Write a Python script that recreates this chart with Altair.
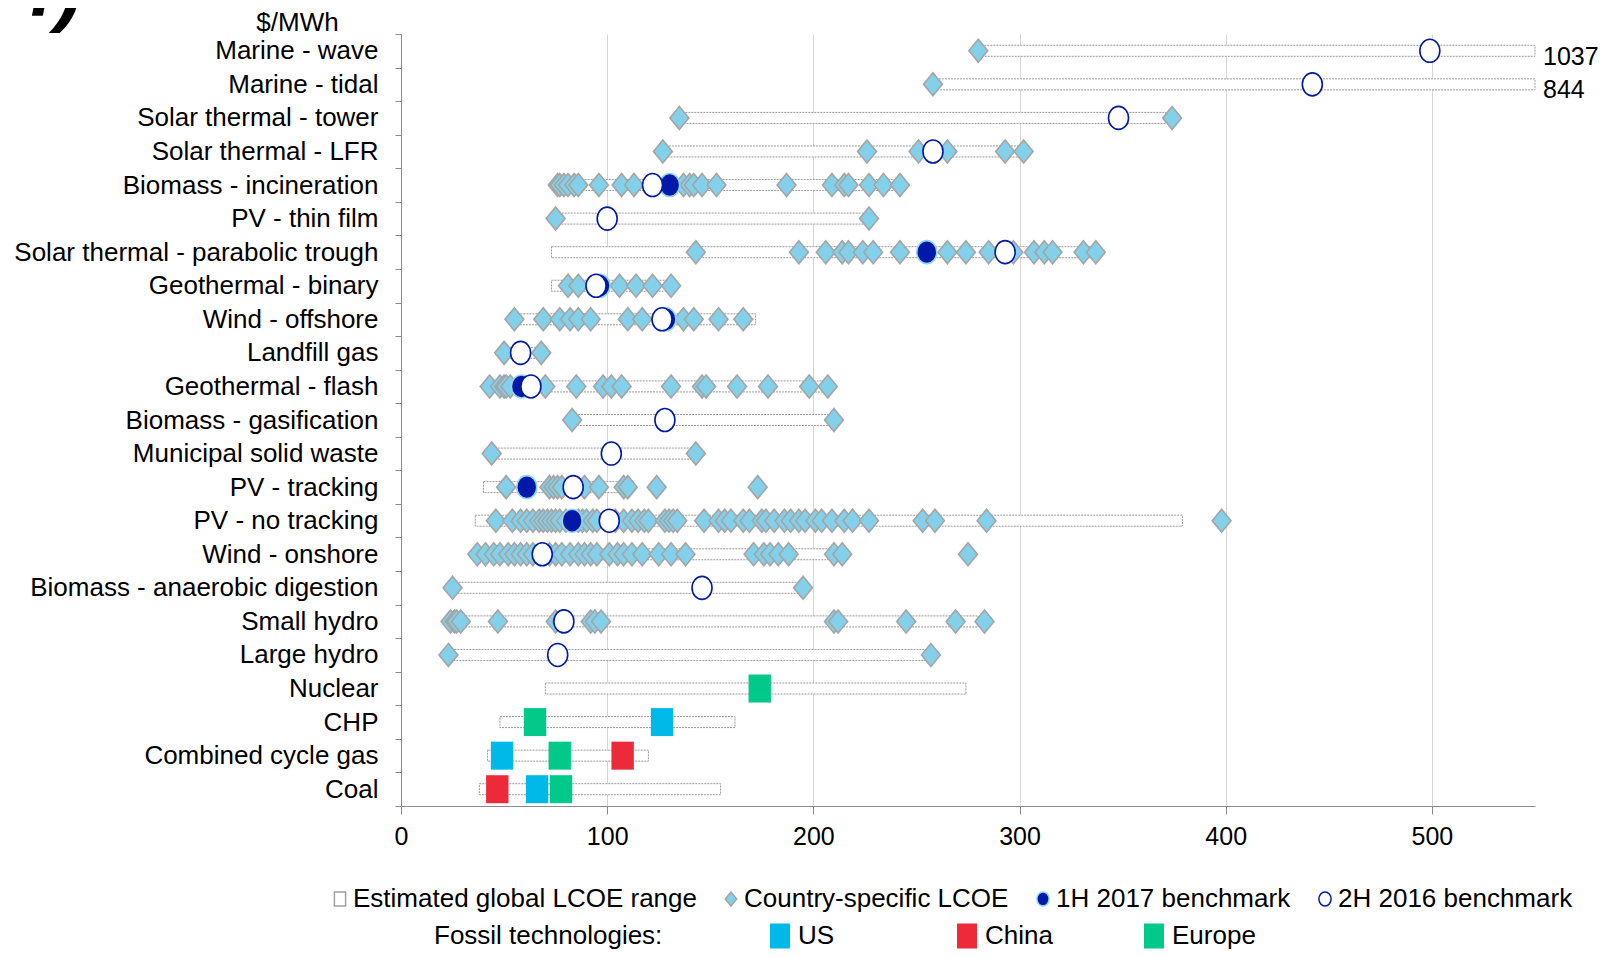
import altair as alt
import pandas as pd

FONT = "Liberation Sans"

categories = [
    "Marine - wave", "Marine - tidal", "Solar thermal - tower", "Solar thermal - LFR",
    "Biomass - incineration", "PV - thin film", "Solar thermal - parabolic trough",
    "Geothermal - binary", "Wind - offshore", "Landfill gas", "Geothermal - flash",
    "Biomass - gasification", "Municipal solid waste", "PV - tracking", "PV - no tracking",
    "Wind - onshore", "Biomass - anaerobic digestion", "Small hydro", "Large hydro",
    "Nuclear", "CHP", "Combined cycle gas", "Coal",
]

range_low = [280, 258, 135, 127, 76, 75, 73, 73, 55, 50, 43, 83, 44, 40, 36, 37, 25, 24, 23, 70, 48, 42, 38]
range_high = [1037, 844, 371, 302, 242, 227, 338, 131, 172, 68, 207, 210, 143, 105, 379, 207, 195, 280, 257, 274, 162, 120, 155]

country_lcoe = [
    [280],
    [258],
    [135, 374],
    [127, 226, 251, 265, 293, 302],
    [76, 77, 79, 81, 84, 86, 96, 107, 113, 137, 140, 142, 146, 153, 187, 209, 215, 217, 227, 234, 242],
    [75, 227],
    [143, 193, 206, 214, 217, 224, 229, 242, 265, 274, 285, 297, 307, 312, 316, 331, 337],
    [81, 86, 106, 114, 122, 131],
    [55, 69, 77, 82, 86, 92, 110, 117, 137, 142, 154, 166],
    [50, 68],
    [43, 48, 50, 51, 53, 70, 85, 98, 102, 107, 131, 146, 148, 163, 178, 198, 207],
    [83, 210],
    [44, 143],
    [51, 72, 74, 76, 78, 89, 96, 108, 110, 124, 173],
    [46, 54, 58, 61, 64, 67, 69, 71, 73, 75, 77, 80, 86, 88, 90, 93, 95, 104, 108, 112,
     115, 118, 120, 128, 130, 132, 134, 147, 154, 157, 160, 166, 169, 175, 177, 181, 186,
     189, 193, 196, 201, 204, 209, 215, 219, 227, 253, 259, 284, 398],
    [37, 41, 45, 48, 52, 55, 58, 61, 64, 72, 75, 78, 82, 86, 89, 92, 95, 101, 105, 108,
     112, 117, 125, 131, 138, 171, 176, 179, 183, 188, 210, 214, 275],
    [25, 195],
    [24, 26, 27, 29, 47, 75, 78, 92, 94, 97, 210, 212, 245, 269, 283],
    [23, 257],
    [], [], [], [],
]

bench_1h2017 = [None, None, None, None, 130.3, None, 255, 96.5, 128.5, None, 58.4, None,
                None, 61, 83, None, None, None, None, None, None, None, None]
bench_2h2016 = [499, 442, 348, 258, 122, 100, 293, 94.6, 126.6, 58, 63, 128, 102, 83.5,
                101, 68.5, 146, 79, 76, None, None, None, None]

fossil_tech = ["Nuclear", "CHP", "CHP", "Combined cycle gas", "Combined cycle gas",
               "Combined cycle gas", "Coal", "Coal", "Coal"]
fossil_region = ["Europe", "Europe", "US", "US", "Europe", "China", "China", "US", "Europe"]
fossil_value = [174, 65, 126.6, 49, 77, 107.5, 46.7, 66, 77.6]

overflow_tech = ["Marine - wave", "Marine - tidal"]
overflow_value = [1037, 844]

series_names = ["Estimated global LCOE range", "Country-specific LCOE",
                "1H 2017 benchmark", "2H 2016 benchmark"]
region_names = ["US", "China", "Europe"]
region_colors = ["#00b9e8", "#ec2a3a", "#00c98a"]

# ---- tables ----
range_df = pd.DataFrame({"tech": categories, "low": range_low, "high": range_high})

rows = []
for tech, vals in zip(categories, country_lcoe):
    for v in vals:
        rows.append({"tech": tech, "value": v, "series": series_names[1]})
for tech, v in zip(categories, bench_1h2017):
    if v is not None:
        rows.append({"tech": tech, "value": v, "series": series_names[2]})
for tech, v in zip(categories, bench_2h2016):
    if v is not None:
        rows.append({"tech": tech, "value": v, "series": series_names[3]})
pts_df = pd.DataFrame(rows)

fossil_df = pd.DataFrame({"tech": fossil_tech, "region": fossil_region, "value": fossil_value})
over_df = pd.DataFrame({"tech": overflow_tech, "value": overflow_value,
                        "label": [str(v) for v in overflow_value]})

# ---- shapes ----
DIAMOND = "M0,-1L0.82,0L0,1L-0.82,0Z"
ELLIPSE = "M0,-1A0.87,1,0,1,1,0,1A0.87,1,0,1,1,0,-1Z"
BOX = "M-0.8,-1L0.8,-1L0.8,1L-0.8,1Z"
TALLRECT = "M-0.8,-1L0.8,-1L0.8,1L-0.8,1Z"

xscale = alt.Scale(domain=[0, 550], clamp=True, nice=False, zero=False)
xaxis = alt.Axis(values=[0, 100, 200, 300, 400, 500], grid=True, gridColor="#d6d6d6",
                 gridWidth=1, domainColor="#8a8a8a", tickColor="#8a8a8a",
                 tickSize=8, labelFontSize=25, labelPadding=10, labelFont=FONT,
                 labelColor="black", labelFlush=False)
yscale = alt.Scale(domain=categories, paddingInner=0, paddingOuter=0)
yaxis = alt.Axis(title="$/MWh", titleAngle=0, titleX=-104, titleY=-12, titleAlign="center",
                 titleBaseline="middle", titleFontSize=26, titleFontWeight="normal",
                 titleFont=FONT, titleColor="black", labelFontSize=26, labelFont=FONT,
                 labelColor="black", labelPadding=17, tickSize=6, tickBand="extent",
                 domainColor="#8a8a8a", tickColor="#8a8a8a", labelLimit=500, grid=False)


def X(field):
    return alt.X(field, scale=xscale, axis=xaxis, title=None)


yenc = alt.Y("tech:N", scale=yscale, axis=yaxis, sort=categories)

legend1 = alt.Legend(orient="none", legendX=-74, legendY=852, direction="horizontal",
                     symbolSize=196, symbolStrokeWidth=1.5, labelFontSize=26, labelFont=FONT,
                     labelColor="black", labelOffset=0, columnPadding=21, labelLimit=500,
                     padding=0)

legend2 = alt.Legend(title="Fossil technologies:", orient="none", legendX=33, legendY=889,
                     direction="horizontal", columns=3, gridAlign="all", columnPadding=72,
                     symbolSize=625, symbolType=TALLRECT, symbolStrokeWidth=0,
                     labelFontSize=26, labelFont=FONT, labelColor="black", labelOffset=5,
                     labelLimit=500, labelExpr="datum.label == 'China' ? '\u00a0China' : datum.label",
                     titleOrient="left", titleFontSize=26, titleFont=FONT,
                     titleFontWeight="normal", titleColor="black", titlePadding=104,
                     titleLimit=500, padding=0)

bars = alt.Chart(range_df).mark_bar(
    size=11, fill="white", stroke="#9a9a9a", strokeWidth=1, strokeDash=[2, 1]
).encode(x=X("low:Q"), x2="high:Q", y=yenc)

points = alt.Chart(pts_df).mark_point(
    filled=True, opacity=1, size=529, strokeWidth=1.6
).encode(
    x=X("value:Q"),
    y=yenc,
    shape=alt.Shape("series:N", title=None, legend=legend1,
                    scale=alt.Scale(domain=series_names, range=[BOX, DIAMOND, ELLIPSE, ELLIPSE])),
    fill=alt.Fill("series:N", title=None, legend=legend1,
                  scale=alt.Scale(domain=series_names,
                                  range=["#ffffff", "#83d0ea", "#0019a8", "#ffffff"])),
    stroke=alt.Stroke("series:N", title=None, legend=legend1,
                      scale=alt.Scale(domain=series_names,
                                      range=["#a0a0a0", "#a5a5a5", "#8fd6f0", "#0019a8"])),
)

fossil = alt.Chart(fossil_df).mark_point(
    shape=TALLRECT, filled=True, opacity=1, size=784, strokeWidth=0
).encode(
    x=X("value:Q"),
    y=yenc,
    color=alt.Color("region:N", legend=legend2,
                    scale=alt.Scale(domain=region_names, range=region_colors)),
)

text = alt.Chart(over_df).mark_text(
    align="left", baseline="middle", dx=8, dy=6, fontSize=25, font=FONT, color="black"
).encode(x=X("value:Q"), y=yenc, text="label:N")

chart = alt.layer(bars, points, fossil, text).properties(
    width=1134,
    height=772,
    autosize=alt.AutoSizeParams(type="none"),
    padding={"left": 393, "top": 26, "right": 65, "bottom": 144},
    background="white",
    title=alt.TitleParams(text="f)", anchor="start", frame="group", dx=-372, dy=24,
                          offset=0, fontSize=80, fontStyle="italic", fontWeight="bold",
                          font=FONT, color="black"),
).configure_view(stroke=None)

chart.save("out.html", embed_options={"renderer": "svg", "actions": False})
